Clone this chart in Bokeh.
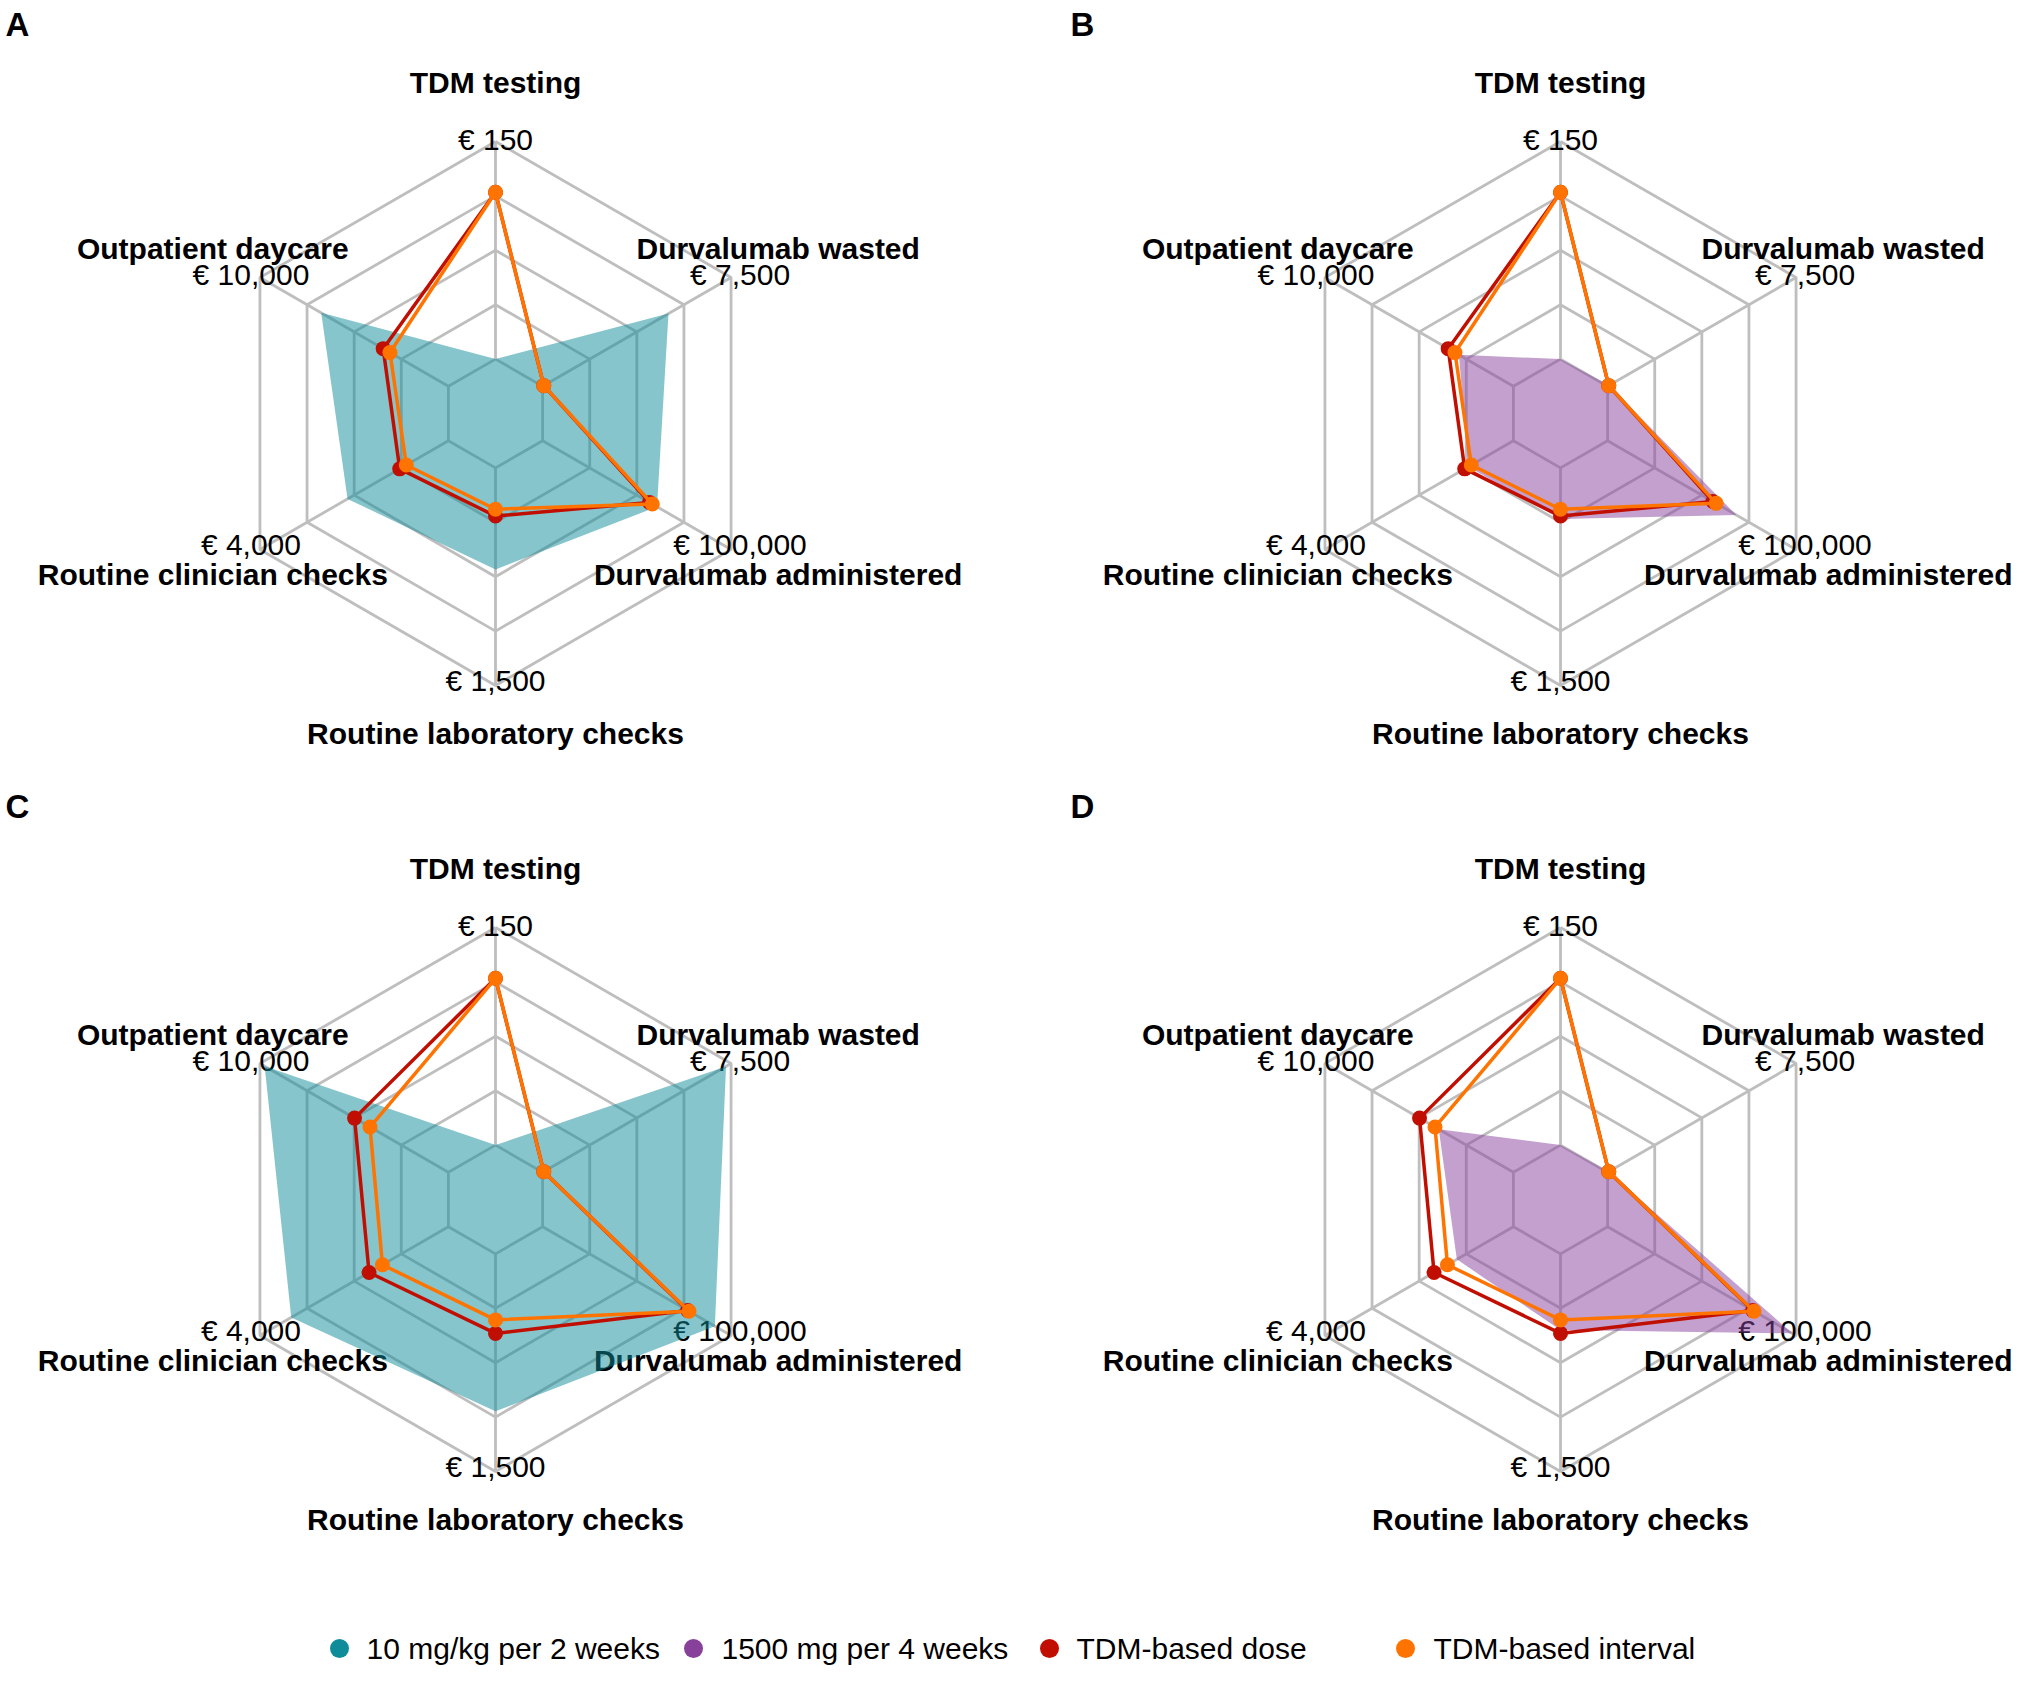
import numpy as np
from bokeh.plotting import figure
from bokeh.models import Range1d
from bokeh.embed import file_html
from bokeh.resources import INLINE
from bokeh.core.properties import value

# ---------------- data ----------------
AXES = ["TDM testing", "Durvalumab wasted", "Durvalumab administered",
        "Routine laboratory checks", "Routine clinician checks", "Outpatient daycare"]
AXIS_MAX = [150, 7500, 100000, 1500, 4000, 10000]
TICK_LABELS = ["€ 150", "€ 7,500", "€ 100,000", "€ 1,500", "€ 4,000", "€ 10,000"]

PANELS = ["A", "B", "C", "D"]
SERIES = ["10 mg/kg per 2 weeks", "1500 mg per 4 weeks", "TDM-based dose", "TDM-based interval"]

# costs in euro, in AXES order
A_STANDARD = [0, 5010, 60700, 700, 2140, 6750]        # 10 mg/kg per 2 weeks
A_TDM_DOSE = [115, 45, 56700, 332, 1034, 3460]
A_TDM_INTERVAL = [115, 45, 58200, 285, 893, 3100]

B_STANDARD = [0, 60, 68200, 352, 960, 2890]           # 1500 mg per 4 weeks
B_TDM_DOSE = [115, 45, 55900, 332, 1034, 3460]
B_TDM_INTERVAL = [115, 45, 57600, 285, 893, 3100]

C_STANDARD = [0, 7300, 91400, 1085, 3336, 9750]       # 10 mg/kg per 2 weeks
C_TDM_DOSE = [115, 45, 77000, 548, 1684, 4980]
C_TDM_INTERVAL = [115, 45, 77700, 455, 1400, 4160]

D_STANDARD = [0, 40, 98000, 525, 1200, 3960]          # 1500 mg per 4 weeks
D_TDM_DOSE = [115, 45, 77000, 548, 1684, 4980]
D_TDM_INTERVAL = [115, 45, 77700, 455, 1400, 4160]

PANEL_DATA = {
    "A": (0, A_STANDARD, A_TDM_DOSE, A_TDM_INTERVAL),
    "B": (1, B_STANDARD, B_TDM_DOSE, B_TDM_INTERVAL),
    "C": (0, C_STANDARD, C_TDM_DOSE, C_TDM_INTERVAL),
    "D": (1, D_STANDARD, D_TDM_DOSE, D_TDM_INTERVAL),
}

# ---------------- style / layout ----------------
COLORS = ["#0E8C9A", "#88419B", "#C00F00", "#FF7300"]
GRID = "#BEBEBE"
FONT = "Liberation Sans"
FS = "30px"

W, H = 2014, 1665          # canvas size in screen px (1:1 layout units)
CENTERS = {"A": (495, 413), "B": (1560, 413), "C": (495, 1199), "D": (1560, 1199)}
R = 272.0
INNER = 0.2          # radius fraction where value 0 sits
N_RINGS = 5
LABEL_R = [1.21, 1.2, 1.2, 1.185, 1.2, 1.2]
TICK_DY = [-2, -3, -5, -5, -5, -3]
LETTER_POS = {"A": (17, 24), "B": (1082, 24), "C": (17, 806), "D": (1082, 806)}

p = figure(width=W, height=H, x_range=Range1d(0, W), y_range=Range1d(H, 0),
           output_backend="svg", toolbar_location=None, min_border=0)
p.axis.visible = False
p.grid.visible = False
p.outline_line_color = None
p.background_fill_color = "white"
p.border_fill_color = "white"

n = len(AXES)
theta = np.deg2rad(90 - 60 * np.arange(n))
cos_t, sin_t = np.cos(theta), np.sin(theta)


def frac_to_xy(cx, cy, frac):
    r = R * np.asarray(frac, dtype=float)
    return cx + r * cos_t, cy - r * sin_t


def values_to_xy(cx, cy, vals):
    v = np.asarray(vals, dtype=float) / np.asarray(AXIS_MAX, dtype=float)
    return frac_to_xy(cx, cy, INNER + (1 - INNER) * v)


def est_width(text, size=30, em=0.534):
    return em * len(text) * size


for panel in PANELS:
    cx, cy = CENTERS[panel]
    std_idx, std_vals, dose_vals, int_vals = PANEL_DATA[panel]

    # grid rings
    ring_xs, ring_ys = [], []
    for k in range(1, N_RINGS + 1):
        f = k / N_RINGS
        x, y = frac_to_xy(cx, cy, [f] * n)
        ring_xs.append(list(x) + [x[0]])
        ring_ys.append(list(y) + [y[0]])
    p.multi_line(ring_xs, ring_ys, line_color=GRID, line_width=2.8)
    # spokes
    xi, yi = frac_to_xy(cx, cy, [INNER] * n)
    xo, yo = frac_to_xy(cx, cy, [1.0] * n)
    p.multi_line([[a, b] for a, b in zip(xi, xo)], [[a, b] for a, b in zip(yi, yo)],
                 line_color=GRID, line_width=2.8)

    # tick labels at outer vertices
    nudge = np.where(np.abs(cos_t) > 0.1, np.sign(cos_t) * 9, 0)
    tx = xo + nudge
    ty = yo + np.asarray(TICK_DY)
    p.text(x=list(tx), y=list(ty), text=TICK_LABELS, text_font=value(FONT), text_font_size=FS,
           text_align="center", text_baseline="middle", text_color="black")

    # axis names
    lx, ly = frac_to_xy(cx, cy, LABEL_R)
    lx = [min(x, W - 2 - est_width(t) / 2) for x, t in zip(lx, AXES)]
    ly = [y - 2 for y in ly]
    p.text(x=lx, y=ly, text=AXES, text_font=value(FONT), text_font_size=FS,
           text_font_style="bold", text_align="center", text_baseline="middle", text_color="black")

    # panel letter
    px_, py_ = LETTER_POS[panel]
    p.text(x=[px_], y=[py_], text=[panel], text_font=value(FONT), text_font_size="33px",
           text_font_style="bold", text_align="center", text_baseline="middle", text_color="black")

    # standard regimen area
    sx, sy = values_to_xy(cx, cy, std_vals)
    p.patch(list(sx), list(sy), fill_color=COLORS[std_idx], fill_alpha=0.5, line_color=None)

    # TDM-based series
    for vals, col in ((dose_vals, COLORS[2]), (int_vals, COLORS[3])):
        x, y = values_to_xy(cx, cy, vals)
        p.line(list(x) + [x[0]], list(y) + [y[0]], line_color=col, line_width=3.5)
        p.scatter(list(x), list(y), size=15, fill_color=col, line_color=None)

# legend
LEG_DOT_X = [339, 693, 1049, 1405]
LEG_TEXT_X = [366, 721, 1076, 1433]
LEG_Y = 1648
p.scatter(LEG_DOT_X, [LEG_Y] * 4, size=19, fill_color=COLORS, line_color=None)
p.text(x=LEG_TEXT_X, y=[LEG_Y] * 4, text=SERIES, text_font=value(FONT), text_font_size=FS,
       text_align="left", text_baseline="middle", text_color="black")

open("out.html", "w").write(file_html(p, INLINE))
